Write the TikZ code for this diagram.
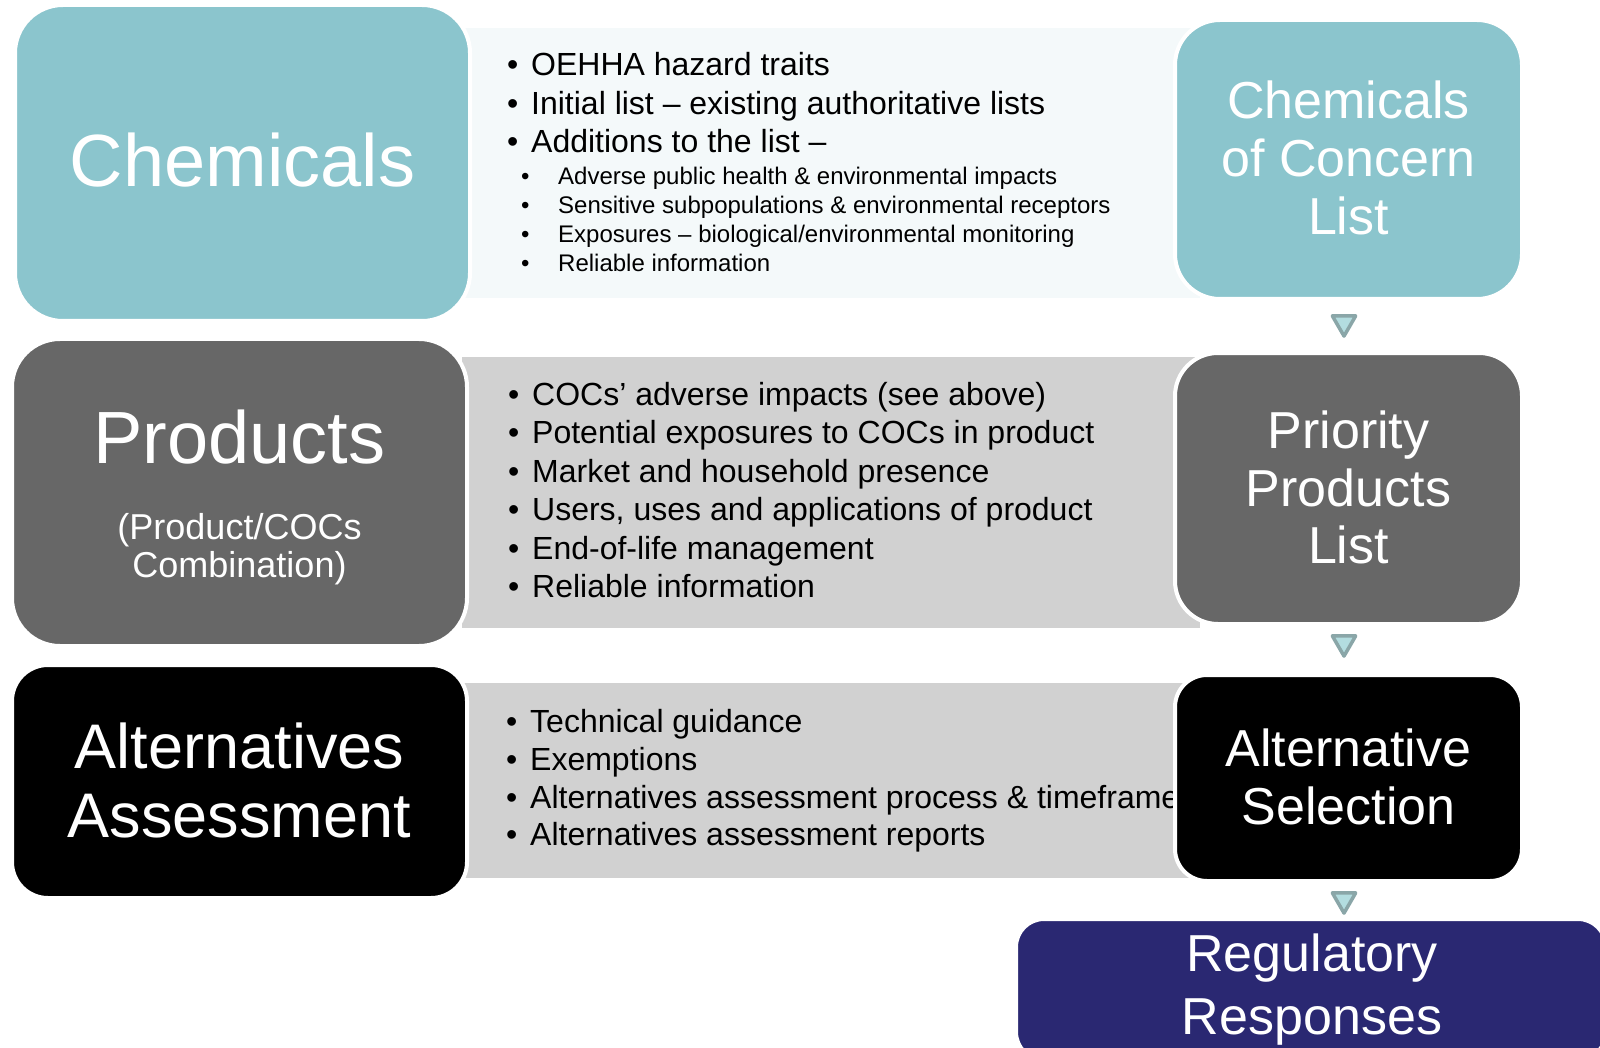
\documentclass[tikz,border=0pt]{standalone}
\usepackage{fontspec}
\setmainfont{Liberation Sans}
\usetikzlibrary{shapes.geometric,calc}
\definecolor{tealbox}{HTML}{8BC5CD}
\definecolor{graybox}{HTML}{676767}
\definecolor{navybox}{HTML}{2A2872}
\definecolor{bandlight}{HTML}{F4F9FA}
\definecolor{bandgray}{HTML}{D1D1D1}
\definecolor{arrowfill}{HTML}{B3DDE0}
\definecolor{arrowline}{HTML}{8AA6A8}
\begin{document}
\begin{tikzpicture}[x=1pt,y=-1pt,
  boxshape/.style={rectangle,draw=white,line width=4pt,rounded corners=#1,inner sep=0pt},
  lbl/.style={anchor=base,inner sep=0pt,text=white},
  bigfont/.style={font=\fontsize{74}{80}\selectfont},
  altfont/.style={font=\fontsize{63}{70}\selectfont},
  subfont/.style={font=\fontsize{36}{40}\selectfont},
  rfont/.style={font=\fontsize{52}{58}\selectfont},
  lone/.style={anchor=base west,inner sep=0pt,font=\fontsize{32}{38}\selectfont},
  ltwo/.style={anchor=base west,inner sep=0pt,font=\fontsize{24}{29}\selectfont},
  tri/.style={regular polygon,regular polygon sides=3,shape border rotate=180,
    minimum size=27pt,inner sep=0pt,fill=arrowfill,draw=arrowline,line width=3.5pt,line join=round}
]
\useasboundingbox (0,0) rectangle (1600,1048);
% bands
\fill[bandlight] (462,28) rectangle (1200,298);
\fill[bandgray] (462,357) rectangle (1200,628);
\fill[bandgray] (462,683) rectangle (1200,878);
% bullet texts
\newcommand{\bone}{\llap{\makebox[24pt][l]{•}}}
\newcommand{\btwo}{\llap{\makebox[37pt][l]{•}}}
\node[lone] (t1) at (531,76) {\bone OEHHA hazard traits};
\node[lone] (t2) at (531,114.5) {\bone Initial list – existing authoritative lists};
\node[lone] (t3) at (531,153) {\bone Additions to the list –};
\node[ltwo] (t4) at (558,185) {\btwo Adverse public health \& environmental impacts};
\node[ltwo] (t5) at (558,213.5) {\btwo Sensitive subpopulations \& environmental receptors};
\node[ltwo] (t6) at (558,243) {\btwo Exposures – biological/environmental monitoring};
\node[ltwo] (t7) at (558,271.5) {\btwo Reliable information};
\node[lone] (m1) at (532,405) {\bone COCs’ adverse impacts (see above)};
\node[lone] (m2) at (532,443.5) {\bone Potential exposures to COCs in product};
\node[lone] (m3) at (532,482) {\bone Market and household presence};
\node[lone] (m4) at (532,520.5) {\bone Users, uses and applications of product};
\node[lone] (m5) at (532,559) {\bone End-of-life management};
\node[lone] (m6) at (532,597.5) {\bone Reliable information};
\node[lone] (a1) at (530,732) {\bone Technical guidance};
\node[lone] (a2) at (530,770) {\bone Exemptions};
\node[lone] (a3) at (530,808) {\bone Alternatives assessment process \& timeframe};
\node[lone] (a4) at (530,845.5) {\bone Alternatives assessment reports};
% left boxes
\node[boxshape=48pt,fill=tealbox,minimum width=455pt,minimum height=316pt] (chem) at (242.5,163) {};
\node[boxshape=48pt,fill=graybox,minimum width=455pt,minimum height=307pt] (prod) at (239.5,492.5) {};
\node[boxshape=36pt,fill=black,minimum width=455pt,minimum height=233pt] (alt) at (239.5,781.5) {};
% right boxes
\node[boxshape=45pt,fill=tealbox,minimum width=347pt,minimum height=279pt] (coc) at (1348.5,159.5) {};
\node[boxshape=43pt,fill=graybox,minimum width=347pt,minimum height=271pt] (ppl) at (1348.5,488.5) {};
\node[boxshape=32pt,fill=black,minimum width=347pt,minimum height=206pt] (sel) at (1348.5,778) {};
\node[boxshape=28pt,fill=navybox,minimum width=590pt,minimum height=141pt] (reg) at (1311,989.5) {};
% left labels
\node[lbl,bigfont] (chemL) at (242.5,187) {Chemicals};
\node[lbl,bigfont] (prodL) at (239.5,463) {Products};
\node[lbl,subfont] (prodS1) at (239.5,539) {(Product/COCs};
\node[lbl,subfont] (prodS2) at (239.5,577) {Combination)};
\node[lbl,altfont] (altL1) at (239.5,768) {Alternatives};
\node[lbl,altfont] (altL2) at (239.5,837) {Assessment};
% right labels
\node[lbl,rfont] (cocL1) at (1348.5,119) {Chemicals};
\node[lbl,rfont] (cocL2) at (1348.5,177) {of Concern};
\node[lbl,rfont] (cocL3) at (1348.5,235) {List};
\node[lbl,rfont] (pplL1) at (1348.5,448) {Priority};
\node[lbl,rfont] (pplL2) at (1348.5,506) {Products};
\node[lbl,rfont] (pplL3) at (1348.5,563) {List};
\node[lbl,rfont] (selL1) at (1348.5,766) {Alternative};
\node[lbl,rfont] (selL2) at (1348.5,824) {Selection};
\node[lbl,rfont] (regL1) at (1312,971) {Regulatory};
\node[lbl,rfont] (regL2) at (1312,1034) {Responses};
% arrow markers between the right-hand boxes
\node[tri] (ar1) at (1344,322.6) {};
\node[tri] (ar2) at (1344,642.6) {};
\node[tri] (ar3) at (1344,899.6) {};
\end{tikzpicture}
\end{document}
